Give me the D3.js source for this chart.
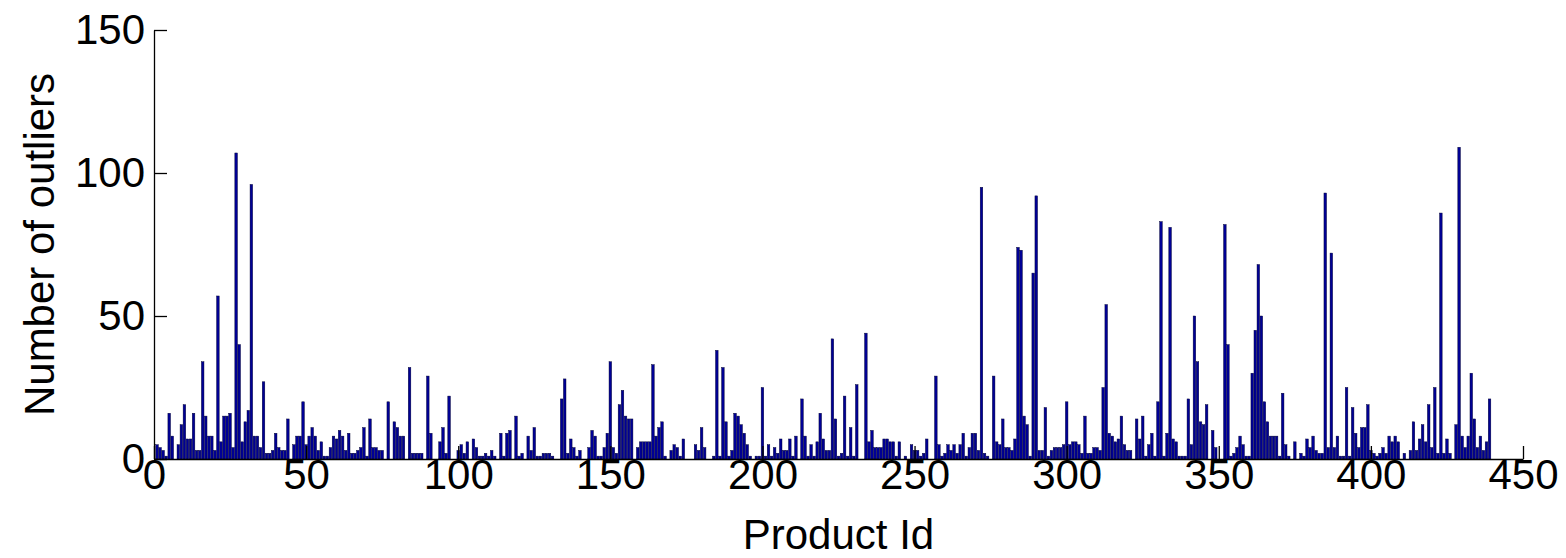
<!DOCTYPE html>
<html>
<head>
<meta charset="utf-8">
<script src="https://cdn.jsdelivr.net/npm/d3@7"></script>
<style>
  body { margin: 0; background: #fff; }
  svg text { font-family: "Liberation Sans", Arial, sans-serif; fill: #000; }
</style>
</head>
<body>
<svg id="chart"></svg>
<script>
// outlier counts per product, ids 1..439
var outliers = [
  5,4,3,1,16,8,0,5,12,19,7,7,16,3,3,34,15,8,8,3,57,6,15,15,16,4,107,40,6,13,17,96,8,8,4,27,2,2,3,9,4,3,3,14,
  0,5,8,8,20,5,8,11,8,3,6,1,1,4,8,7,10,8,3,9,2,2,3,4,11,1,14,4,4,3,3,0,20,0,13,11,8,8,0,32,2,2,2,2,0,
  29,9,0,0,6,11,2,22,0,0,3,5,2,6,0,7,4,1,1,2,1,3,1,0,9,1,9,10,0,15,1,2,0,8,3,11,1,1,2,2,2,1,0,0,21,
  28,2,7,4,1,3,0,0,4,10,8,1,1,4,9,34,4,2,19,24,15,14,14,0,4,6,6,6,6,33,8,11,13,1,0,3,5,4,1,7,0,0,0,5,3,11,
  4,0,0,1,38,1,32,13,1,3,16,15,12,9,5,1,0,1,1,25,1,5,1,4,2,7,3,3,7,1,8,0,21,8,1,5,1,6,16,7,3,3,42,14,1,
  2,22,1,11,1,26,0,0,44,6,10,4,4,4,7,7,6,6,1,6,0,1,0,5,3,3,1,2,7,0,0,29,5,1,2,5,3,5,2,5,9,1,4,9,9,
  3,95,2,1,0,29,6,5,14,4,4,3,7,74,73,15,12,1,65,92,3,3,18,1,3,4,4,4,5,20,5,6,6,5,2,15,2,2,4,4,3,25,54,9,8,6,
  7,15,5,3,3,0,14,7,15,1,5,9,1,20,83,1,9,81,7,6,1,1,1,21,5,50,34,13,12,19,0,10,4,0,0,82,40,1,2,4,8,5,1,1,30,
  45,68,50,20,13,8,8,8,1,23,5,1,0,6,0,2,1,7,4,8,3,2,2,93,4,72,4,8,1,1,25,1,18,9,4,11,11,19,3,2,1,2,4,2,8,
  6,8,6,0,2,0,3,13,3,7,12,6,19,4,25,2,86,2,7,2,0,12,109,8,4,8,30,14,4,8,3,6,21
];
var productIds = outliers.map(function(d, i) { return i + 1; });

var xTicks = [0, 50, 100, 150, 200, 250, 300, 350, 400, 450];
var yTicks = [0, 50, 100, 150];
var xLabel = "Product Id",
    yLabel = "Number of outliers";

// *********************************************
// SETUP
// *********************************************
var width = 1566,
    height = 558;

var svg = d3.select("#chart")
    .attr("width", width)
    .attr("height", height);

var x = d3.scaleLinear().domain([0, 450]).range([154, 1523]);
var y = d3.scaleLinear().domain([0, 150]).range([459, 30]);
var barW = (x(1) - x(0)) * 0.85;

// bars
svg.append("g")
  .selectAll("rect")
  .data(outliers)
  .enter().append("rect")
    .attr("x", (d, i) => x(productIds[i]) - barW / 2)
    .attr("y", d => y(d))
    .attr("width", barW)
    .attr("height", d => y(0) - y(d))
    .attr("fill", "#000095")
    .attr("stroke", "#000030")
    .attr("stroke-width", 0.45);

// axes (ticks point inward, like matlab)
var xAxis = svg.append("g")
    .attr("transform", "translate(0," + y(0) + ")")
    .call(d3.axisBottom(x).tickValues(xTicks).tickSizeInner(-13).tickSizeOuter(0).tickPadding(0));
var yAxis = svg.append("g")
    .attr("transform", "translate(" + x(0) + ",0)")
    .call(d3.axisLeft(y).tickValues(yTicks).tickSizeInner(-13).tickSizeOuter(0).tickPadding(9));

svg.selectAll(".tick text").style("font-size", "42px").style("font-family", "Liberation Sans, Arial, sans-serif");
svg.selectAll(".domain, .tick line").attr("stroke", "#000").attr("stroke-width", 1.3);

svg.append("text")
    .attr("x", (x(0) + x(450)) / 2)
    .attr("y", 549)
    .attr("text-anchor", "middle")
    .style("font-size", "42px")
    .text(xLabel);

svg.append("text")
    .attr("transform", "translate(54," + (y(75)) + ")rotate(-90)")
    .attr("text-anchor", "middle")
    .style("font-size", "42px")
    .text(yLabel);
</script>
</body>
</html>
